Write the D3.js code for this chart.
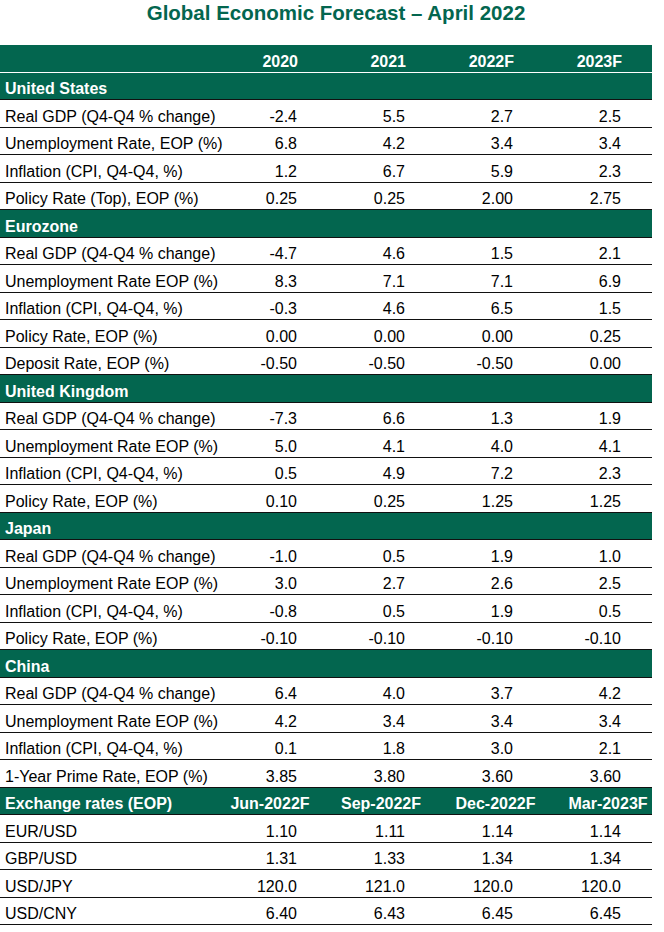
<!DOCTYPE html>
<html>
<head>
<meta charset="utf-8">
<script src="https://cdn.jsdelivr.net/npm/d3@7"></script>
<style>
  html, body { margin: 0; padding: 0; background: #fff; }
  svg { display: block; font-family: "Liberation Sans", Arial, sans-serif; }
</style>
</head>
<body>
<svg id="chart" width="664" height="932"></svg>
<script>
// ---------------- DATA ----------------
const title = "Global Economic Forecast \u2013 April 2022";
const yearColumns = ["2020", "2021", "2022F", "2023F"];
const fxColumns = ["Jun-2022F", "Sep-2022F", "Dec-2022F", "Mar-2023F"];

const sectionNames = ["United States", "Eurozone", "United Kingdom", "Japan", "China"];

const usLabels = ["Real GDP (Q4-Q4 % change)", "Unemployment Rate, EOP (%)", "Inflation (CPI, Q4-Q4, %)", "Policy Rate (Top), EOP (%)"];
const usValues = [[-2.4, 5.5, 2.7, 2.5], [6.8, 4.2, 3.4, 3.4], [1.2, 6.7, 5.9, 2.3], [0.25, 0.25, 2.00, 2.75]];
const usDecimals = [1, 1, 1, 2];

const ezLabels = ["Real GDP (Q4-Q4 % change)", "Unemployment Rate EOP (%)", "Inflation (CPI, Q4-Q4, %)", "Policy Rate, EOP (%)", "Deposit Rate, EOP (%)"];
const ezValues = [[-4.7, 4.6, 1.5, 2.1], [8.3, 7.1, 7.1, 6.9], [-0.3, 4.6, 6.5, 1.5], [0.00, 0.00, 0.00, 0.25], [-0.50, -0.50, -0.50, 0.00]];
const ezDecimals = [1, 1, 1, 2, 2];

const ukLabels = ["Real GDP (Q4-Q4 % change)", "Unemployment Rate EOP (%)", "Inflation (CPI, Q4-Q4, %)", "Policy Rate, EOP (%)"];
const ukValues = [[-7.3, 6.6, 1.3, 1.9], [5.0, 4.1, 4.0, 4.1], [0.5, 4.9, 7.2, 2.3], [0.10, 0.25, 1.25, 1.25]];
const ukDecimals = [1, 1, 1, 2];

const jpLabels = ["Real GDP (Q4-Q4 % change)", "Unemployment Rate EOP (%)", "Inflation (CPI, Q4-Q4, %)", "Policy Rate, EOP (%)"];
const jpValues = [[-1.0, 0.5, 1.9, 1.0], [3.0, 2.7, 2.6, 2.5], [-0.8, 0.5, 1.9, 0.5], [-0.10, -0.10, -0.10, -0.10]];
const jpDecimals = [1, 1, 1, 2];

const cnLabels = ["Real GDP (Q4-Q4 % change)", "Unemployment Rate EOP (%)", "Inflation (CPI, Q4-Q4, %)", "1-Year Prime Rate, EOP (%)"];
const cnValues = [[6.4, 4.0, 3.7, 4.2], [4.2, 3.4, 3.4, 3.4], [0.1, 1.8, 3.0, 2.1], [3.85, 3.80, 3.60, 3.60]];
const cnDecimals = [1, 1, 1, 2];

const fxTitle = "Exchange rates (EOP)";
const fxLabels = ["EUR/USD", "GBP/USD", "USD/JPY", "USD/CNY"];
const fxValues = [[1.10, 1.11, 1.14, 1.14], [1.31, 1.33, 1.34, 1.34], [120.0, 121.0, 120.0, 120.0], [6.40, 6.43, 6.45, 6.45]];
const fxDecimals = [2, 2, 1, 2];

// ---------------- BUILD ROWS ----------------
const sections = [
  [usLabels, usValues, usDecimals],
  [ezLabels, ezValues, ezDecimals],
  [ukLabels, ukValues, ukDecimals],
  [jpLabels, jpValues, jpDecimals],
  [cnLabels, cnValues, cnDecimals]
];
const rows = [];
rows.push({type: "colhead", label: "", cols: yearColumns});
sections.forEach((s, i) => {
  rows.push({type: "section", label: sectionNames[i]});
  s[0].forEach((lab, j) => rows.push({type: "data", label: lab, values: s[1][j], dec: s[2][j]}));
});
rows.push({type: "fxhead", label: fxTitle, cols: fxColumns});
fxLabels.forEach((lab, j) => rows.push({type: "data", label: lab, values: fxValues[j], dec: fxDecimals[j]}));

// ---------------- LAYOUT ----------------
const GREEN = "#03664f";
const tableLeft = 0, tableRight = 652;
const tableTop = 45, tableBottom = 925;

const svg = d3.select("#chart");

const y = d3.scaleBand()
  .domain(d3.range(rows.length))
  .range([tableTop, tableBottom])
  .padding(0);
const rh = y.bandwidth();

// numeric column right edges
const xCol = d3.scaleLinear().domain([0, 3]).range([297, 621]);
// fx header centres
const xFxHead = d3.scaleOrdinal().domain(d3.range(4)).range([270, 381, 495.5, 608]);

// Title
svg.append("text")
  .attr("x", 336)
  .attr("y", 19.5)
  .attr("text-anchor", "middle")
  .attr("font-size", "20.5px")
  .attr("font-weight", "bold")
  .attr("fill", GREEN)
  .text(title);

const g = svg.append("g");

// Green backgrounds
g.selectAll("rect.bg")
  .data(rows.map((r, i) => ({r, i})).filter(d => d.r.type !== "data"))
  .join("rect")
  .attr("class", "bg")
  .attr("x", tableLeft)
  .attr("y", d => y(d.i))
  .attr("width", tableRight - tableLeft)
  .attr("height", rh)
  .attr("fill", GREEN);

// Row separator lines
const boundaries = d3.range(1, rows.length + 1);
g.selectAll("line.sep")
  .data(boundaries)
  .join("line")
  .attr("class", "sep")
  .attr("x1", tableLeft)
  .attr("x2", tableRight)
  .attr("y1", k => Math.round(y(k - 1) + rh) - 0.5)
  .attr("y2", k => Math.round(y(k - 1) + rh) - 0.5)
  .attr("stroke", k => k === 1 ? "#ffffff" : "#111")
  .attr("stroke-width", 1);

const textOffset = 21.5;

// Row labels
g.selectAll("text.label")
  .data(rows.map((r, i) => ({r, i})).filter(d => d.r.label))
  .join("text")
  .attr("class", "label")
  .attr("x", 5)
  .attr("y", d => y(d.i) + textOffset)
  .attr("font-size", "16px")
  .attr("font-weight", d => d.r.type === "data" ? "normal" : "bold")
  .attr("fill", d => d.r.type === "data" ? "#000" : "#fff")
  .text(d => d.r.label);

// Column headers and values
rows.forEach((r, i) => {
  if (r.type === "colhead") {
    g.selectAll(null)
      .data(r.cols)
      .join("text")
      .attr("x", (c, j) => xCol(j) + 1)
      .attr("y", y(i) + textOffset)
      .attr("text-anchor", "end")
      .attr("font-size", "16px")
      .attr("font-weight", "bold")
      .attr("fill", "#fff")
      .text(c => c);
  } else if (r.type === "fxhead") {
    g.selectAll(null)
      .data(r.cols)
      .join("text")
      .attr("x", (c, j) => xFxHead(j))
      .attr("y", y(i) + textOffset)
      .attr("text-anchor", "middle")
      .attr("font-size", "16px")
      .attr("font-weight", "bold")
      .attr("fill", "#fff")
      .text(c => c);
  } else if (r.type === "data") {
    const fmt = d3.format("." + r.dec + "f");
    g.selectAll(null)
      .data(r.values)
      .join("text")
      .attr("x", (v, j) => xCol(j))
      .attr("y", y(i) + textOffset)
      .attr("text-anchor", "end")
      .attr("font-size", "16px")
      .attr("fill", "#000")
      .text(v => fmt(v).replace("\u2212", "-"));
  }
});
</script>
</body>
</html>
